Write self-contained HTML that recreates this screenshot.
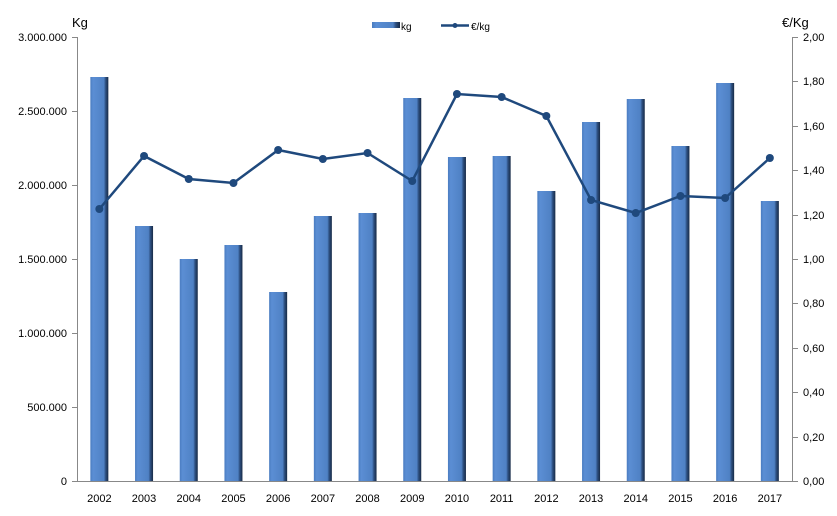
<!DOCTYPE html><html><head><meta charset="utf-8"><style>body{margin:0;background:#fff}svg{display:block}text{font-family:"Liberation Sans",sans-serif;font-size:11px;fill:#000}</style></head><body>
<svg width="837" height="516" viewBox="0 0 837 516">
<defs><linearGradient id="g" x1="0" x2="1" y1="0" y2="0"><stop offset="0" stop-color="#4a7cc0"/><stop offset="0.15" stop-color="#5b8ed4"/><stop offset="0.75" stop-color="#4f81c4"/><stop offset="0.85" stop-color="#2d4f80"/><stop offset="1" stop-color="#172a45"/></linearGradient></defs>
<g stroke="#888" stroke-width="1">
<line x1="77.5" y1="37" x2="77.5" y2="481"/><line x1="792.5" y1="37" x2="792.5" y2="481"/><line x1="77" y1="481.5" x2="793" y2="481.5"/>
<line x1="72" y1="37.5" x2="77" y2="37.5"/><line x1="72" y1="111.5" x2="77" y2="111.5"/><line x1="72" y1="185.5" x2="77" y2="185.5"/><line x1="72" y1="259.5" x2="77" y2="259.5"/><line x1="72" y1="333.5" x2="77" y2="333.5"/><line x1="72" y1="407.5" x2="77" y2="407.5"/><line x1="72" y1="481.5" x2="77" y2="481.5"/>
<line x1="793" y1="37.5" x2="798" y2="37.5"/><line x1="793" y1="81.5" x2="798" y2="81.5"/><line x1="793" y1="126.5" x2="798" y2="126.5"/><line x1="793" y1="170.5" x2="798" y2="170.5"/><line x1="793" y1="215.5" x2="798" y2="215.5"/><line x1="793" y1="259.5" x2="798" y2="259.5"/><line x1="793" y1="303.5" x2="798" y2="303.5"/><line x1="793" y1="348.5" x2="798" y2="348.5"/><line x1="793" y1="392.5" x2="798" y2="392.5"/><line x1="793" y1="437.5" x2="798" y2="437.5"/><line x1="793" y1="481.5" x2="798" y2="481.5"/>
</g>
<g text-anchor="end"><text x="67" y="41">3.000.000</text><text x="67" y="115">2.500.000</text><text x="67" y="189">2.000.000</text><text x="67" y="263">1.500.000</text><text x="67" y="337">1.000.000</text><text x="67" y="411">500.000</text><text x="67" y="485">0</text></g>
<g><text x="803" y="41">2,00</text><text x="803" y="85">1,80</text><text x="803" y="130">1,60</text><text x="803" y="174">1,40</text><text x="803" y="219">1,20</text><text x="803" y="263">1,00</text><text x="803" y="307">0,80</text><text x="803" y="352">0,60</text><text x="803" y="396">0,40</text><text x="803" y="441">0,20</text><text x="803" y="485">0,00</text></g>
<text x="72" y="27" style="font-size:13px">Kg</text><text x="782" y="27" style="font-size:13px">€/Kg</text>
<g fill="url(#g)">
<rect x="90.35" y="77" width="18" height="404"/>
<rect x="135.05" y="226" width="18" height="255"/>
<rect x="179.75" y="259" width="18" height="222"/>
<rect x="224.45" y="245" width="18" height="236"/>
<rect x="269.15" y="292" width="18" height="189"/>
<rect x="313.85" y="216" width="18" height="265"/>
<rect x="358.55" y="213" width="18" height="268"/>
<rect x="403.25" y="98" width="18" height="383"/>
<rect x="447.95" y="157" width="18" height="324"/>
<rect x="492.65" y="156" width="18" height="325"/>
<rect x="537.35" y="191" width="18" height="290"/>
<rect x="582.05" y="122" width="18" height="359"/>
<rect x="626.75" y="99" width="18" height="382"/>
<rect x="671.45" y="146" width="18" height="335"/>
<rect x="716.15" y="83" width="18" height="398"/>
<rect x="760.85" y="201" width="18" height="280"/>
</g>
<polyline fill="none" stroke="#1f497d" stroke-width="2.5" points="99.35,209 144.05,156 188.75,179 233.45,183 278.15,150 322.85,159 367.55,153 412.25,181 456.95,94 501.65,97 546.35,116 591.05,200 635.75,213 680.45,196 725.15,198 769.85,158"/>
<g fill="#1f497d">
<circle cx="99.35" cy="209" r="4"/><circle cx="144.05" cy="156" r="4"/><circle cx="188.75" cy="179" r="4"/><circle cx="233.45" cy="183" r="4"/><circle cx="278.15" cy="150" r="4"/><circle cx="322.85" cy="159" r="4"/><circle cx="367.55" cy="153" r="4"/><circle cx="412.25" cy="181" r="4"/><circle cx="456.95" cy="94" r="4"/><circle cx="501.65" cy="97" r="4"/><circle cx="546.35" cy="116" r="4"/><circle cx="591.05" cy="200" r="4"/><circle cx="635.75" cy="213" r="4"/><circle cx="680.45" cy="196" r="4"/><circle cx="725.15" cy="198" r="4"/><circle cx="769.85" cy="158" r="4"/>
</g>
<g text-anchor="middle">
<text x="99.35" y="502">2002</text><text x="144.05" y="502">2003</text><text x="188.75" y="502">2004</text><text x="233.45" y="502">2005</text><text x="278.15" y="502">2006</text><text x="322.85" y="502">2007</text><text x="367.55" y="502">2008</text><text x="412.25" y="502">2009</text><text x="456.95" y="502">2010</text><text x="501.65" y="502">2011</text><text x="546.35" y="502">2012</text><text x="591.05" y="502">2013</text><text x="635.75" y="502">2014</text><text x="680.45" y="502">2015</text><text x="725.15" y="502">2016</text><text x="769.85" y="502">2017</text>
</g>
<rect x="372" y="22" width="28" height="6" fill="url(#g)"/><text x="401" y="30" style="font-size:10px">kg</text>
<line x1="441" y1="25.5" x2="469" y2="25.5" stroke="#1f497d" stroke-width="2.5"/><circle cx="455" cy="25.5" r="2.5" fill="#1f497d"/><text x="471" y="30" style="font-size:10px">€/kg</text>
</svg></body></html>
